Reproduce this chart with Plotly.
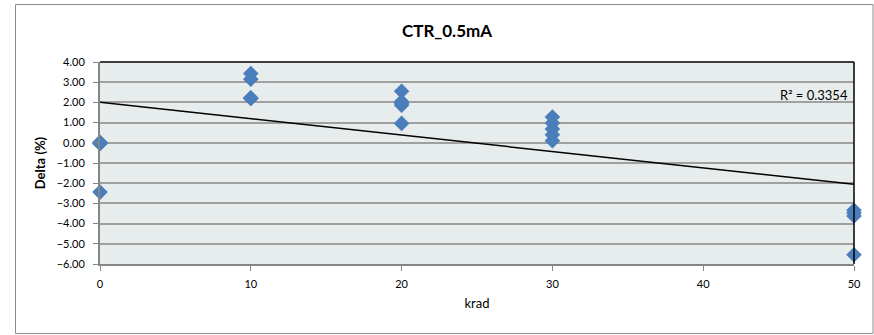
import numpy as np
import plotly.graph_objects as go

dose_krad = [0, 0, 0, 0, 0,
             10, 10, 10, 10, 10,
             20, 20, 20, 20, 20,
             30, 30, 30, 30, 30,
             50, 50, 50, 50]
delta_pct = [0.03, 0.00, -0.02, -0.05, -2.44,
             3.43, 3.15, 2.23, 2.21, 2.19,
             2.55, 2.04, 1.94, 1.86, 0.96,
             1.28, 0.98, 0.68, 0.40, 0.10,
             -3.34, -3.48, -3.62, -5.54]
x_ticks = [0, 10, 20, 30, 40, 50]
y_ticks = [4, 3, 2, 1, 0, -1, -2, -3, -4, -5, -6]

x = np.array(dose_krad, float)
y = np.array(delta_pct, float)
slope, intercept = np.polyfit(x, y, 1)
pred = slope * x + intercept
r2 = 1 - np.sum((y - pred) ** 2) / np.sum((y - y.mean()) ** 2)
fit_x = [min(dose_krad), max(dose_krad)]
fit_y = [slope * v + intercept for v in fit_x]

font = "Lato, 'Open Sans', sans-serif"
W, H = 874, 335
L, R, T, B = 100, 20, 62, 71
pw, ph = W - L - R, H - T - B

fig = go.Figure()
fig.add_trace(go.Scatter(x=fit_x, y=fit_y, mode="lines",
                         line=dict(color="black", width=1.5), hoverinfo="skip"))
fig.add_trace(go.Scatter(x=dose_krad, y=delta_pct, mode="markers",
                         marker=dict(symbol="diamond", size=12, color="#4A7EBB",
                                     line=dict(width=0)), cliponaxis=False))
fig.update_layout(
    width=W, height=H, margin=dict(l=L, r=R, t=T, b=B),
    paper_bgcolor="white", plot_bgcolor="#E7ECEC", showlegend=False,
    font=dict(family=font, size=11, color="black"),
    title=dict(text="<b>CTR_0.5mA</b>", x=447 / W, xanchor="center", y=1 - 31 / H,
               yanchor="middle", font=dict(size=17)),
    xaxis=dict(range=[0, 50], tickvals=x_ticks, showgrid=False, zeroline=False,
               showline=True, linecolor="#868686", linewidth=2, ticks="outside",
               ticklen=5, tickcolor="#868686", ticklabelstandoff=4,
               title=dict(text="krad", font=dict(size=13), standoff=10)),
    yaxis=dict(range=[-6, 4], tickvals=y_ticks, tickformat=".2f", showgrid=True,
               gridcolor="#A0A0A0", gridwidth=1.5, zeroline=False,
               showline=True, linecolor="#868686", linewidth=2, ticks="outside",
               ticklen=5, tickcolor="#868686", ticklabelstandoff=6,
               title=dict(text="<b>Delta (%)</b>", font=dict(size=13), standoff=8)),
    shapes=[
        dict(type="line", xref="paper", yref="paper", x0=0, x1=1, y0=1, y1=1,
             line=dict(color="black", width=1.5)),
        dict(type="line", xref="paper", yref="paper", x0=1, x1=1, y0=0, y1=1,
             line=dict(color="black", width=1.5)),
        dict(type="rect", xref="paper", yref="paper",
             x0=(15.5 - L) / pw, x1=(873 - L) / pw,
             y0=(H - B - 333.5) / ph, y1=(H - B - 4.5) / ph,
             line=dict(color="#8C8C8C", width=1)),
    ],
    annotations=[
        dict(x=1, y=(H - B - 95) / ph, xref="paper", yref="paper", xanchor="right",
             yanchor="middle", text="R² = %.4f" % r2, showarrow=False,
             font=dict(size=13), xshift=-4),
    ],
)
fig.write_html("out.html", config={"displayModeBar": False},
               post_script="document.body.style.margin='0px';")
